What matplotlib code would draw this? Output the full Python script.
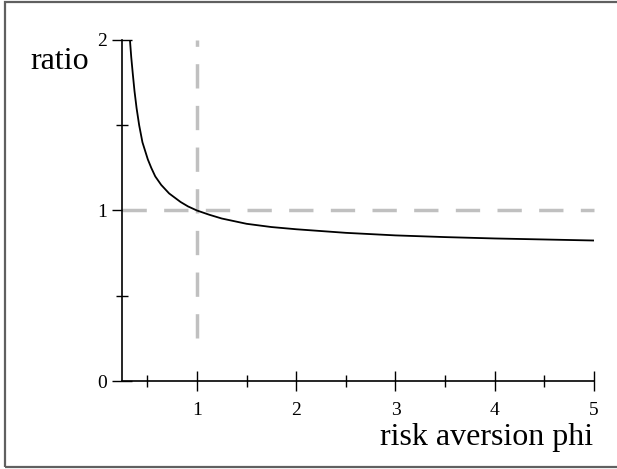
import matplotlib
matplotlib.use("Agg")
import matplotlib.pyplot as plt
from matplotlib.patches import Rectangle

# Data
phi = [0.325, 0.338, 0.354, 0.371, 0.392, 0.418, 0.451, 0.505, 0.54, 0.58,
       0.64, 0.72, 0.835, 0.91, 1.0, 1.125, 1.25, 1.5, 1.75, 2.0, 2.5,
       3.0, 3.5, 4.0, 4.5, 5.0]
ratio = [2.0, 1.9, 1.8, 1.7, 1.6, 1.5, 1.4, 1.3, 1.25, 1.2,
         1.15, 1.1, 1.05, 1.024, 1.0, 0.975, 0.953, 0.922, 0.903, 0.89, 0.869,
         0.854, 0.844, 0.836, 0.83, 0.824]

ref_h_x = [0.25, 5.0]
ref_h_y = [1.0, 1.0]
ref_v_x = [1.0, 1.0]
ref_v_y = [0.25, 2.0]

xticks_major = [1, 2, 3, 4, 5]
xticks_minor = [0.5, 1.5, 2.5, 3.5, 4.5]
yticks_major = [0, 1, 2]
yticks_minor = [0.5, 1.5]

W, H = 617, 469
fig = plt.figure(figsize=(W / 100, H / 100), dpi=100)
serif = ["Liberation Serif", "DejaVu Serif"]

# Border around figure
fig.patches.append(Rectangle((5 / W, 1 - 467 / H), 700 / W, (467 - 2) / H,
                             transform=fig.transFigure, fill=False,
                             edgecolor="#606060", linewidth=1.6))

ax = fig.add_axes([122 / W, (H - 381) / H, (594 - 122) / W, (381 - 40) / H])
ax.set_xlim(0.245, 5.0)
ax.set_ylim(0, 2.0)

dash = (0, (7, 5))
ax.plot(ref_h_x, ref_h_y, color="#c0c0c0", lw=2.5, linestyle=dash, clip_on=False)
ax.plot(ref_v_x, ref_v_y, color="#c0c0c0", lw=2.5, linestyle=dash, clip_on=False)
ax.plot(phi, ratio, color="black", lw=1.3, clip_on=True,
        solid_joinstyle="round")

for s in ["top", "right"]:
    ax.spines[s].set_visible(False)
for s in ["left", "bottom"]:
    ax.spines[s].set_linewidth(1.2)
    ax.spines[s].set_color("black")

ax.set_xticks(xticks_major)
ax.set_xticks(xticks_minor, minor=True)
ax.set_yticks(yticks_major)
ax.set_yticks(yticks_minor, minor=True)
ax.set_xticklabels([str(v) for v in xticks_major], fontfamily=serif, fontsize=14)
ax.set_yticklabels([str(v) for v in yticks_major], fontfamily=serif, fontsize=14)
ax.tick_params(which="major", direction="inout", length=14, width=1.0)
ax.tick_params(which="minor", direction="inout", length=8, width=1.0)
ax.tick_params(axis="x", which="major", pad=8)
ax.tick_params(axis="y", which="major", pad=4)

fig.text(30 / W, 1 - 69 / H, "ratio", fontfamily=serif, fontsize=23,
         ha="left", va="baseline")
fig.text(593 / W, 1 - 445 / H, "risk aversion phi", fontfamily=serif,
         fontsize=23, ha="right", va="baseline")

fig.savefig("out.png", dpi=100)
